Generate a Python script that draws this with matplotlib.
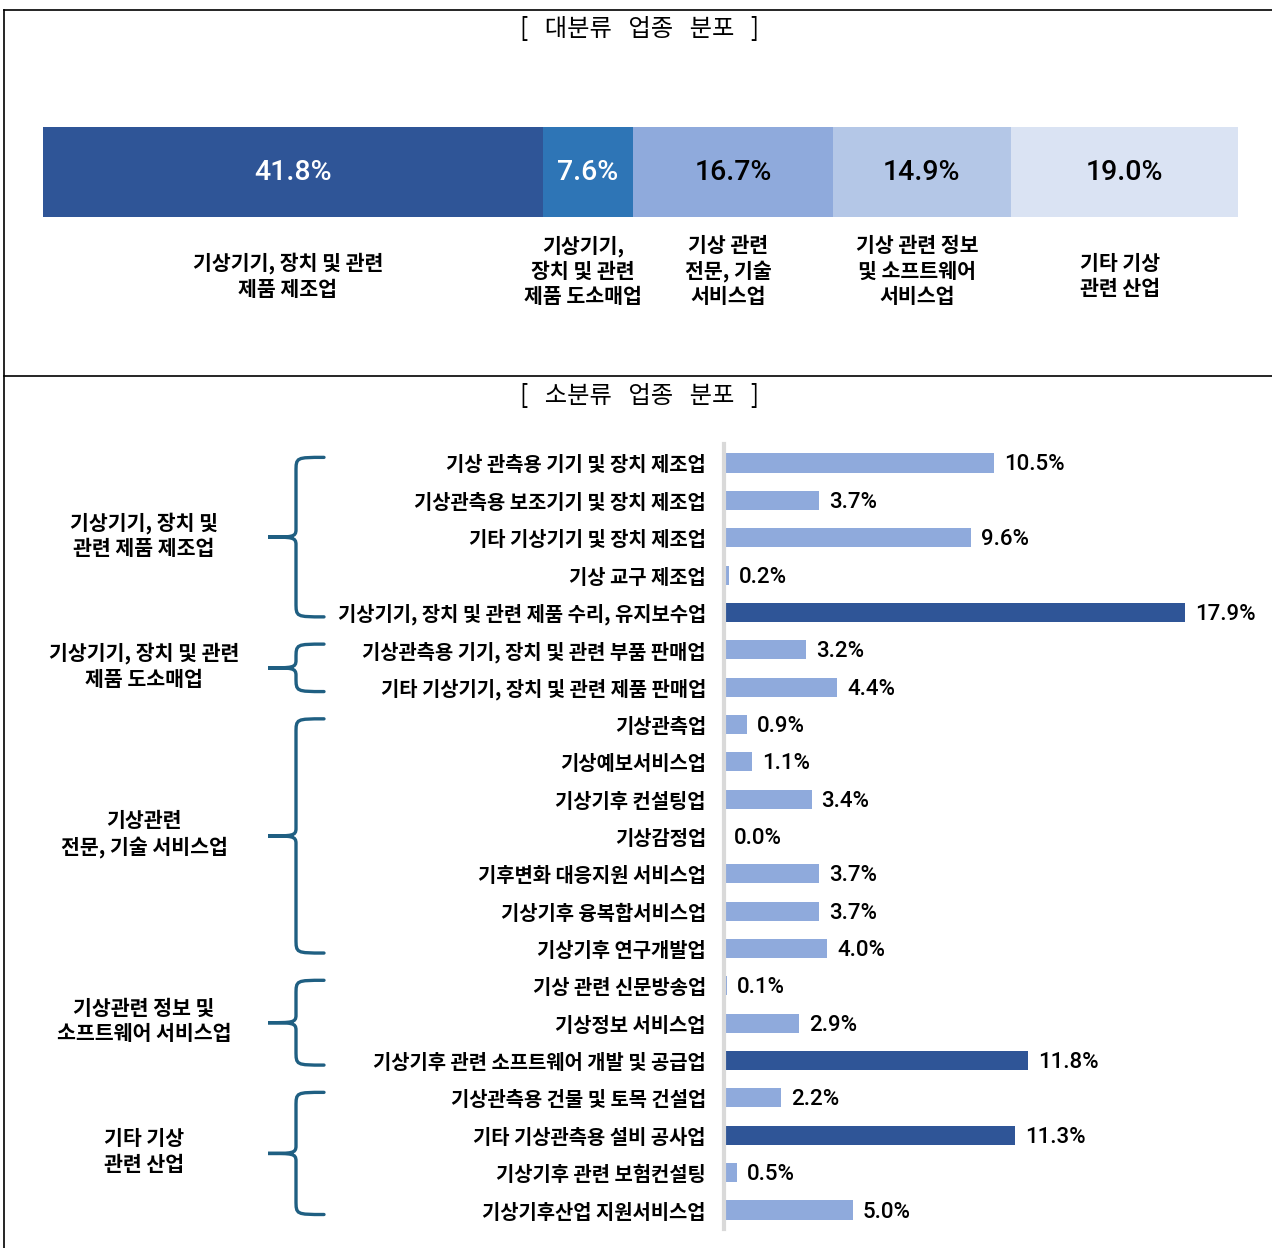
import numpy as np
import matplotlib.pyplot as plt
from matplotlib.path import Path
from matplotlib.patches import PathPatch
from matplotlib.transforms import blended_transform_factory

plt.rcParams['font.family'] = ['Noto Sans CJK KR', 'DejaVu Sans']
NUM_FONT = ['Roboto', 'DejaVu Sans']

# ---- data ----
top_labels = ['기상기기, 장치 및 관련\n제품 제조업', '기상기기,\n장치 및 관련\n제품 도소매업',
              '기상 관련\n전문, 기술\n서비스업', '기상 관련 정보\n및 소프트웨어\n서비스업', '기타 기상\n관련 산업']
top_values = [41.8, 7.6, 16.7, 14.9, 19.0]
top_colors = ['#2F5597', '#2E75B6', '#8FAADC', '#B4C7E7', '#DAE3F3']
top_text_colors = ['white', 'white', 'black', 'black', 'black']

sub_labels = ['기상 관측용 기기 및 장치 제조업', '기상관측용 보조기기 및 장치 제조업',
              '기타 기상기기 및 장치 제조업', '기상 교구 제조업',
              '기상기기, 장치 및 관련 제품 수리, 유지보수업',
              '기상관측용 기기, 장치 및 관련 부품 판매업', '기타 기상기기, 장치 및 관련 제품 판매업',
              '기상관측업', '기상예보서비스업', '기상기후 컨설팅업', '기상감정업',
              '기후변화 대응지원 서비스업', '기상기후 융복합서비스업', '기상기후 연구개발업',
              '기상 관련 신문방송업', '기상정보 서비스업', '기상기후 관련 소프트웨어 개발 및 공급업',
              '기상관측용 건물 및 토목 건설업', '기타 기상관측용 설비 공사업',
              '기상기후 관련 보험컨설팅', '기상기후산업 지원서비스업']
sub_values = [10.5, 3.7, 9.6, 0.2, 17.9, 3.2, 4.4, 0.9, 1.1, 3.4, 0.0,
              3.7, 3.7, 4.0, 0.1, 2.9, 11.8, 2.2, 11.3, 0.5, 5.0]
highlight = [4, 16, 18]

group_labels = ['기상기기, 장치 및\n관련 제품 제조업', '기상기기, 장치 및 관련\n제품 도소매업',
                '기상관련\n전문, 기술 서비스업', '기상관련 정보 및\n소프트웨어 서비스업',
                '기타 기상\n관련 산업']
group_rows = [(0, 4), (5, 6), (7, 13), (14, 16), (17, 20)]

W, H = 1272, 1248
fig = plt.figure(figsize=(W / 100, H / 100), dpi=100)

def px_axes(x0, y0, x1, y1):
    return fig.add_axes([x0 / W, 1 - y1 / H, (x1 - x0) / W, (y1 - y0) / H])

# ---- top stacked bar ----
ax1 = px_axes(43, 127, 1238, 217)
left = 0
centers = []
for v, c, tc in zip(top_values, top_colors, top_text_colors):
    ax1.barh(0, v, left=left, height=1, color=c)
    ax1.text(left + v / 2, -0.01, f'{v:.1f}%', ha='center', va='center',
             color=tc, fontsize=20.5, fontweight='medium', family=NUM_FONT)
    centers.append(left + v / 2)
    left += v
ax1.set_xlim(0, 100)
ax1.set_ylim(-0.5, 0.5)
ax1.axis('off')

# ---- bottom bar chart ----
ax2 = px_axes(724, 444.3, 1239, 1228.7)
y = np.arange(len(sub_values))
colors = ['#2F5597' if i in highlight else '#8FAADC' for i in range(len(sub_values))]
ax2.barh(y, sub_values, height=0.51, color=colors)
for yi, v in zip(y, sub_values):
    ax2.annotate(f'{v:.1f}%', (v, yi), xytext=(10, -2), textcoords='offset pixels',
                 va='center', ha='left', fontsize=16, fontweight='medium', family=NUM_FONT)
ax2.set_xlim(0, 20)
ax2.set_ylim(20.5, -0.5)
ax2.set_yticks(y)
ax2.set_yticklabels(sub_labels, fontsize=14.3, fontweight='bold')
ax2.tick_params(axis='y', length=0, pad=13)
ax2.set_xticks([])
for s in ['top', 'right', 'bottom']:
    ax2.spines[s].set_visible(False)
ax2.spines['left'].set_color('#D9D9D9')
ax2.spines['left'].set_linewidth(3)
ax2.patch.set_alpha(0)

# ---- overlay: frames, titles, braces ----
ov = fig.add_axes([0, 0, 1, 1])
ov.set_xlim(0, W)
ov.set_ylim(H, 0)
ov.axis('off')
ov.patch.set_alpha(0)

ov.plot([4, W], [10, 10], color='black', lw=1.2)
ov.plot([4, 4], [10, H], color='black', lw=1.2)
ov.plot([4, W], [376, 376], color='black', lw=1.2)

ov.text(640, 29, '[   대분류   업종   분포   ]', ha='center', va='center', fontsize=17.5)
ov.text(640, 396, '[   소분류   업종   분포   ]', ha='center', va='center', fontsize=17.5)

tr_top = blended_transform_factory(ax1.transData, ov.transData)
for cx, lab in zip(centers, top_labels):
    ty = 276 if lab.count('\n') == 1 else 271
    ov.text(cx - 0.4, ty, lab, transform=tr_top, ha='center', va='center',
            fontsize=14.8, fontweight='bold', linespacing=1.25)

tr_br = blended_transform_factory(ov.transData, ax2.transData)
xv, xe, xt = 296, 324, 268
for (r0, r1), lab in zip(group_rows, group_labels):
    yt, yb = r0 - 0.15, r1 + 0.12
    ym = (yt + yb) / 2
    r = 0.38
    r2 = 0.2
    verts = [(xe, yt), (xv, yt), (xv, yt), (xv, yt + r),
             (xv, ym - r2),
             (xv, ym), (xv - 4, ym), (xt, ym),
             (xv - 4, ym), (xv, ym), (xv, ym + r2),
             (xv, yb - r),
             (xv, yb), (xv, yb), (xe, yb)]
    codes = [Path.MOVETO, Path.CURVE4, Path.CURVE4, Path.CURVE4,
             Path.LINETO,
             Path.CURVE4, Path.CURVE4, Path.CURVE4,
             Path.CURVE4, Path.CURVE4, Path.CURVE4,
             Path.LINETO,
             Path.CURVE4, Path.CURVE4, Path.CURVE4]
    ov.add_patch(PathPatch(Path(verts, codes), transform=tr_br, fill=False,
                           edgecolor='#1F5F82', lw=2.4, capstyle='round'))
    ov.text(144, ym - 0.05, lab, transform=tr_br, ha='center', va='center',
            fontsize=14.8, fontweight='bold', linespacing=1.25)

fig.savefig('out.png', dpi=100)
